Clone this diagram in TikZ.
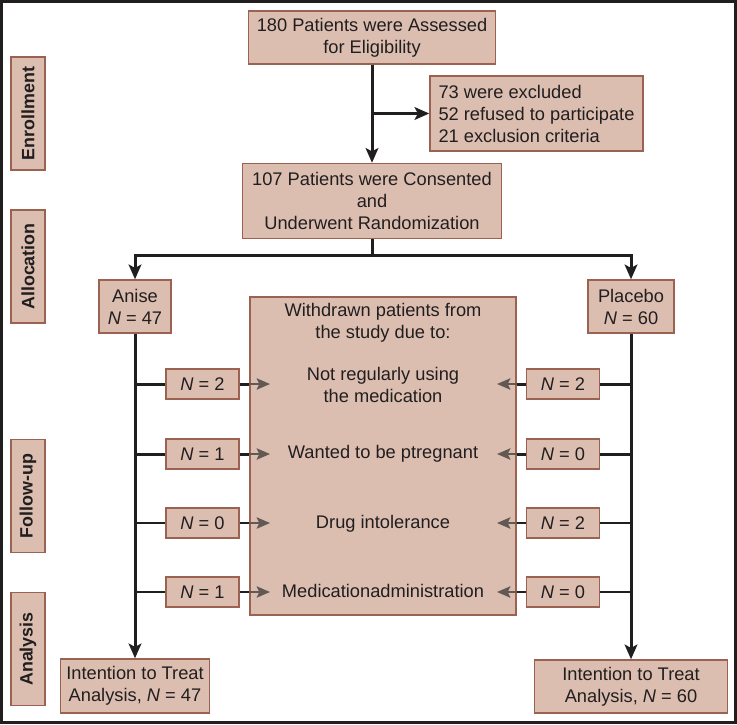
\documentclass[tikz,border=0pt]{standalone}
\usepackage{fontspec}
\setmainfont{Liberation Sans}
\usetikzlibrary{arrows.meta}

\definecolor{boxfill}{RGB}{220,190,177}
\definecolor{boxline}{RGB}{155,98,82}
\definecolor{inkblack}{RGB}{33,30,31}
\definecolor{arrowgrey}{RGB}{98,88,84}

\begin{document}
\begin{tikzpicture}[x=0.75pt,y=0.75pt,yscale=-1,xscale=1,
  box/.style={draw=boxline,fill=boxfill,line width=1.1pt,inner sep=0pt,align=center,text=inkblack,font=\fontsize{13.7}{16.5}\selectfont},
  phase/.style={box,rotate=90,minimum width=84.75pt,minimum height=25.5pt,font=\fontsize{13.4}{16}\selectfont\bfseries},
  nbox/.style={box,minimum width=54.75pt,minimum height=22.5pt},
  reason/.style={inner sep=0pt,align=center,text=inkblack,font=\fontsize{13.7}{16.5}\selectfont},
  trunk/.style={draw=inkblack,line width=2.25pt},
  twig/.style={draw=inkblack,line width=1.5pt},
  flow/.style={trunk,-{Stealth[length=11pt,width=9.5pt,inset=2.5pt]}},
  side/.style={draw=arrowgrey,line width=1.5pt,-{Stealth[length=10pt,width=8.5pt,inset=2pt]}}
]
%set diagram: white page with black frame
\useasboundingbox (0,0) rectangle (737,724);
\fill[white] (0,0) rectangle (737,724);
\draw[inkblack,line width=2.25pt] (1.5,1.5) rectangle (735.5,722.5);

%Phase labels
\node [phase] (enrol) at (28,113.5) {Enrollment};
\node [phase] (alloc) at (28,266.5) {Allocation};
\node [phase] (follow) at (28,496) {Follow-up};
\node [phase] (anal) at (28,649) {Analysis};

%Enrollment boxes
\node [box,minimum width=185.25pt,minimum height=39.75pt] (assess) at (372,37.5) {180 Patients were Assessed\\for Eligibility};
\node [box,minimum width=159.75pt,minimum height=56.25pt,align=left] (excl) at (536.5,113.5) {73 were excluded\\52 refused to participate\\21 exclusion criteria};
\node [box,minimum width=194.25pt,minimum height=56.25pt] (consent) at (372,201) {107 Patients were Consented\\and\\Underwent Randomization};

%Allocation boxes
\node [box,minimum width=54pt,minimum height=39.75pt] (anise) at (135,306.5) {Anise\\\textit{N} = 47};
\node [box,minimum width=64.5pt,minimum height=39.75pt] (placebo) at (631,306.5) {Placebo\\\textit{N} = 60};

%Withdrawal box and its texts
\node [box,minimum width=199.5pt,minimum height=238.5pt] (withdraw) at (383,456) {};
\node [reason] (head) at (383,323) {Withdrawn patients from\\the study due to:};
\node [reason] (why1) at (383,385) {Not regularly using\\the medication};
\node [reason] (why2) at (383,454) {Wanted to be ptregnant};
\node [reason] (why3) at (383,524) {Drug intolerance};
\node [reason] (why4) at (383,591) {Medicationadministration};

%Counts, anise side
\node [nbox] (ln1) at (202.5,384) {\textit{N} = 2};
\node [nbox] (ln2) at (202.5,454) {\textit{N} = 1};
\node [nbox] (ln3) at (202.5,523) {\textit{N} = 0};
\node [nbox] (ln4) at (202.5,592) {\textit{N} = 1};
%Counts, placebo side
\node [nbox] (rn1) at (563,384) {\textit{N} = 2};
\node [nbox] (rn2) at (563,454) {\textit{N} = 0};
\node [nbox] (rn3) at (563,523) {\textit{N} = 2};
\node [nbox] (rn4) at (563,592) {\textit{N} = 0};

%Analysis boxes
\node [box,minimum width=111.75pt,minimum height=40.5pt] (ittl) at (135,686) {Intention to Treat\\Analysis, \textit{N} = 47};
\node [box,minimum width=144.75pt,minimum height=39.75pt] (ittr) at (631,686.5) {Intention to Treat\\Analysis, \textit{N} = 60};

%Arrow tips inside the withdrawal box
\coordinate (tipl) at (270,456);
\coordinate (tipr) at (497,456);
\coordinate (split) at (372,255);

%Straight Lines, enrollment
\draw [flow] (assess) -- (consent);
\draw [flow] (assess.south |- excl.west) -- (excl.west);
%Straight Lines, allocation
\draw [trunk] (consent.south) -- (split);
\draw [flow] (split) -| (anise.north);
\draw [flow] (split) -| (placebo.north);
%Straight Lines, follow-up
\draw [flow] (anise.south) -- (ittl.north);
\draw [flow] (placebo.south) -- (ittr.north);

\draw [trunk] (anise.south |- ln1) -- (ln1.west);
\draw [trunk] (anise.south |- ln2) -- (ln2.west);
\draw [twig] (anise.south |- ln3) -- (ln3.west);
\draw [twig] (anise.south |- ln4) -- (ln4.west);
\draw [trunk] (ln1.east) -- (ln1 -| withdraw.west);
\draw [trunk] (ln2.east) -- (ln2 -| withdraw.west);
\draw [twig] (ln3.east) -- (ln3 -| withdraw.west);
\draw [twig] (ln4.east) -- (ln4 -| withdraw.west);
\draw [side] (ln1 -| withdraw.west) -- (ln1 -| tipl);
\draw [side] (ln2 -| withdraw.west) -- (ln2 -| tipl);
\draw [side] (ln3 -| withdraw.west) -- (ln3 -| tipl);
\draw [side] (ln4 -| withdraw.west) -- (ln4 -| tipl);

\draw [trunk] (placebo.south |- rn1) -- (rn1.east);
\draw [trunk] (placebo.south |- rn2) -- (rn2.east);
\draw [twig] (placebo.south |- rn3) -- (rn3.east);
\draw [twig] (placebo.south |- rn4) -- (rn4.east);
\draw [trunk] (rn1.west) -- (rn1 -| withdraw.east);
\draw [trunk] (rn2.west) -- (rn2 -| withdraw.east);
\draw [twig] (rn3.west) -- (rn3 -| withdraw.east);
\draw [twig] (rn4.west) -- (rn4 -| withdraw.east);
\draw [side] (rn1 -| withdraw.east) -- (rn1 -| tipr);
\draw [side] (rn2 -| withdraw.east) -- (rn2 -| tipr);
\draw [side] (rn3 -| withdraw.east) -- (rn3 -| tipr);
\draw [side] (rn4 -| withdraw.east) -- (rn4 -| tipr);

\end{tikzpicture}
\end{document}
